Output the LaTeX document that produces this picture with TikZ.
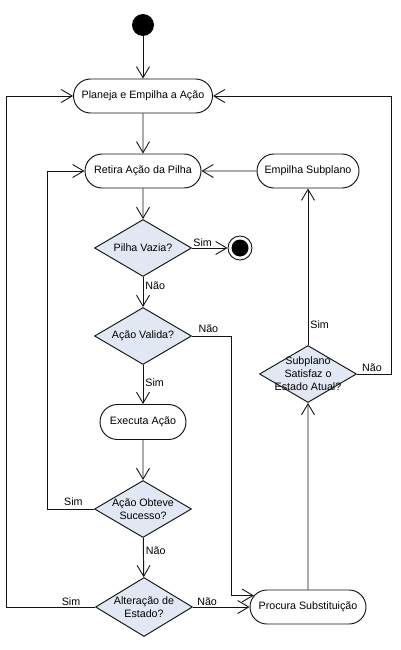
\documentclass[tikz,border=0pt]{standalone}
\usepackage{fontspec}
\setmainfont{Liberation Sans}
\usetikzlibrary{shapes.geometric,shapes.misc,arrows.meta}
\definecolor{decfill}{RGB}{225,232,244}
\definecolor{linec}{RGB}{20,20,20}
\begin{document}
\begin{tikzpicture}[x=1pt,y=-1pt,
  font=\fontsize{10.7}{13}\selectfont,
  arr/.style={draw=linec, line width=0.95pt, -{Straight Barb[length=11pt,width=13pt,line width=0.9pt]}},
  act/.style={rounded rectangle, draw=linec, line width=0.95pt, fill=white, minimum height=34pt, inner sep=0pt},
  dec/.style={diamond, draw=linec, line width=0.95pt, fill=decfill, inner sep=0pt, minimum width=97pt, minimum height=57pt},
  dtext/.style={align=center, inner sep=0pt},
  lab/.style={inner sep=2pt}
]
\useasboundingbox (0,0) rectangle (400,650);

\node[circle, fill=black, minimum size=22pt, inner sep=0pt] (start) at (143,25) {};
\node[act, minimum width=139pt] (plan) at (143,96) {Planeja e Empilha a Ação};
\node[act, minimum width=116pt] (retira) at (143,171) {Retira Ação da Pilha};
\node[act, minimum width=102pt] (empilha) at (308,171) {Empilha Subplano};
\node[dec, label={[dtext]center:Pilha Vazia?}] (pilha) at (143,248) {};
\node[circle, draw=linec, line width=0.95pt, fill=white, minimum size=24pt, inner sep=0pt,
      path picture={\fill[black] (path picture bounding box.center) circle (8.5pt);}] (fim) at (240,248) {};
\node[dec, label={[dtext]center:Ação Valida?}] (valida) at (143,336) {};
\node[act, minimum width=86pt, minimum height=35pt] (exec) at (143,422) {Executa Ação};
\node[dec, label={[dtext]center:Ação Obteve\\Sucesso?}] (obteve) at (143,509) {};
\node[dec, minimum height=59pt, label={[dtext]center:Alteração de\\Estado?}] (alter) at (144,607) {};
\node[dec, label={[dtext]center:Subplano\\Satisfaz o\\Estado Atual?}] (subp) at (308,374) {};
\node[act, minimum width=116pt] (procura) at (308,607) {Procura Substituição};

\coordinate (cV) at (231,336);
\coordinate (cL) at (6,350);
\coordinate (cS) at (47,300);
\coordinate (cR) at (391,300);

\draw[arr] (start) -- (plan);
\draw[arr] (plan) -- (retira);
\draw[arr] (retira) -- (pilha);
\draw[arr] (empilha) -- (retira);
\draw[arr] (pilha) -- node[lab, above, pos=0.3, inner sep=1pt]{Sim} (fim);
\draw[arr] (pilha) -- node[lab, right, pos=0.3]{Não} (valida);
\draw[arr] (valida.east) -- node[lab, above, pos=0.42, yshift=1pt]{Não} (cV) |- (procura.168);
\draw[arr] (valida) -- node[lab, right, pos=0.45]{Sim} (exec);
\draw[arr] (exec) -- (obteve);
\draw[arr] (obteve.west) -- node[lab, above, pos=0.44, yshift=1pt]{Sim} (obteve.west -| cS) |- (retira.west);
\draw[arr] (obteve) -- node[lab, right, pos=0.32]{Não} (alter);
\draw[arr] (alter.west) -- node[lab, above, pos=0.27, inner sep=1pt]{Sim} (alter.west -| cL) |- (plan.west);
\draw[arr] (alter) -- node[lab, above, pos=0.25, inner sep=1pt]{Não} (procura);
\draw[arr] (procura) -- (subp);
\draw[arr] (subp) -- node[lab, right, pos=0.13]{Sim} (empilha);
\draw[arr] (subp.east) -- node[lab, above, pos=0.44]{Não} (subp.east -| cR) |- (plan.east);
\end{tikzpicture}
\end{document}
